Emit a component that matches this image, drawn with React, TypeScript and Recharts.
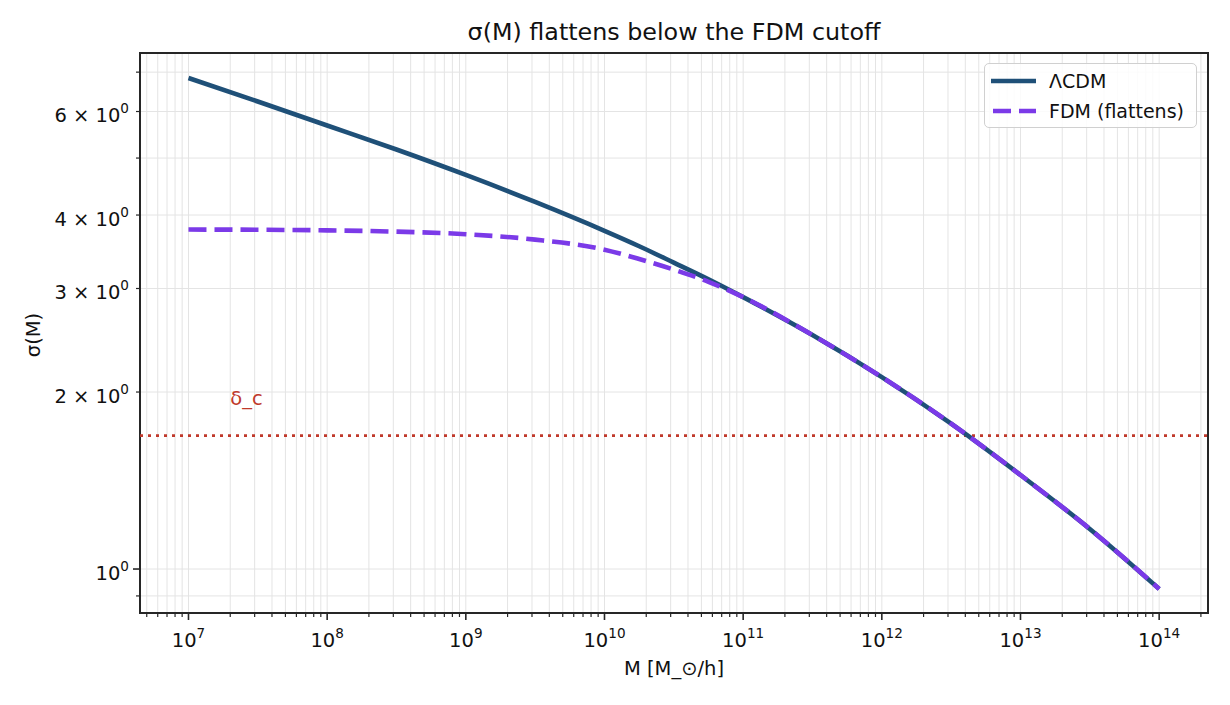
import {
  LineChart,
  Line,
  XAxis,
  YAxis,
  CartesianGrid,
  Legend,
  ReferenceLine,
  ReferenceArea,
  ReferenceDot,
} from 'recharts'

// halo mass M [M_sun/h]
const massValues = [
  1e7, 3.16e7, 1e8, 3.16e8, 1e9, 3.16e9, 1e10, 1.78e10, 3.16e10, 5.62e10,
  1e11, 3.16e11, 1e12, 3.16e12, 1e13, 3.16e13, 1e14,
]
// sigma(M)
const lcdmSigma = [
  6.84, 6.24, 5.68, 5.17, 4.68, 4.21, 3.76, 3.54, 3.32, 3.11,
  2.9, 2.5, 2.12, 1.767, 1.445, 1.17, 0.925,
]
const fdmSigma = [
  3.779, 3.776, 3.767, 3.748, 3.711, 3.633, 3.493, 3.367, 3.23, 3.08,
  2.9, 2.5, 2.12, 1.767, 1.445, 1.17, 0.925,
]

const deltaC = 1.686
const deltaLabelPos = { x: 2e7, y: 1.9 }

const xDomain = [4.47e6, 2.25e14]
const yDomain = [0.8418, 7.545]

const xMajorExps = [7, 8, 9, 10, 11, 12, 13, 14]
const xTicks = [
  5e6, 6e6, 7e6, 8e6, 9e6,
  1e7, 2e7, 3e7, 4e7, 5e7, 6e7, 7e7, 8e7, 9e7,
  1e8, 2e8, 3e8, 4e8, 5e8, 6e8, 7e8, 8e8, 9e8,
  1e9, 2e9, 3e9, 4e9, 5e9, 6e9, 7e9, 8e9, 9e9,
  1e10, 2e10, 3e10, 4e10, 5e10, 6e10, 7e10, 8e10, 9e10,
  1e11, 2e11, 3e11, 4e11, 5e11, 6e11, 7e11, 8e11, 9e11,
  1e12, 2e12, 3e12, 4e12, 5e12, 6e12, 7e12, 8e12, 9e12,
  1e13, 2e13, 3e13, 4e13, 5e13, 6e13, 7e13, 8e13, 9e13,
  1e14, 2e14,
]
const yTicks = [0.9, 1, 2, 3, 4, 5, 6, 7]
const yLabels: Record<number, string> = { 2: '2', 3: '3', 4: '4', 6: '6' }

const data = massValues.map((m, i) => ({ m, lcdm: lcdmSigma[i], fdm: fdmSigma[i] }))

const FONT = '"DejaVu Sans", sans-serif'
const LCDM_COLOR = '#1f5078'
const FDM_COLOR = '#7b3ae8'
const DELTA_COLOR = '#c0392b'

function XTick(props: any) {
  const { x, y, payload } = props
  const v = payload.value
  const exp = Math.round(Math.log10(v))
  const isMajor = Math.abs(v - Math.pow(10, exp)) / v < 1e-6 && xMajorExps.includes(exp)
  return (
    <g>
      <line x1={x} x2={x} y1={y} y2={y + (isMajor ? 7 : 4)} stroke="#262626" strokeWidth={isMajor ? 1.6 : 1.2} />
      {isMajor && (
        <text x={x} y={y + 34} textAnchor="middle" fontFamily={FONT} fontSize={19.5} fill="#111">
          <tspan>10</tspan>
          <tspan dy={-9} fontSize={13.6}>{exp}</tspan>
        </text>
      )}
    </g>
  )
}

function YTick(props: any) {
  const { x, y, payload } = props
  const v = payload.value
  const isMajor = v === 1
  const mant = yLabels[v]
  const hasLabel = isMajor || mant !== undefined
  return (
    <g>
      <line x1={x} x2={x - (isMajor ? 7 : 4)} y1={y} y2={y} stroke="#262626" strokeWidth={isMajor ? 1.6 : 1.2} />
      {hasLabel && (
        <text x={x - 11} y={y + 10.5} textAnchor="end" fontFamily={FONT} fontSize={19.5} fill="#111">
          <tspan>{isMajor ? '10' : `${mant} × 10`}</tspan>
          <tspan dy={-9} fontSize={13.6}>0</tspan>
        </text>
      )}
    </g>
  )
}

function LegendBox() {
  const rows = [
    { label: 'ΛCDM', color: LCDM_COLOR, dash: undefined },
    { label: 'FDM (flattens)', color: FDM_COLOR, dash: '18 8' },
  ]
  return (
    <div
      style={{
        width: 213,
        height: 65,
        boxSizing: 'border-box',
        border: '1.5px solid #d0d0d0',
        borderRadius: 5,
        background: 'rgba(255,255,255,0.85)',
        fontFamily: FONT,
        fontSize: 19,
        color: '#111',
        position: 'relative',
      }}
    >
      {rows.map((r, i) => (
        <div key={r.label} style={{ position: 'absolute', left: 0, top: 4 + i * 30, height: 26, display: 'flex', alignItems: 'center' }}>
          <svg width={56} height={26} style={{ display: 'block' }}>
            <line x1={6} x2={51} y1={13} y2={13} stroke={r.color} strokeWidth={4.5} strokeDasharray={r.dash} strokeDashoffset={r.dash ? -2 : 0} />
          </svg>
          <span style={{ marginLeft: 8, lineHeight: '26px', whiteSpace: 'nowrap' }}>{r.label}</span>
        </div>
      ))}
    </div>
  )
}

function DeltaLabel(props: any) {
  const { viewBox } = props
  const cx = viewBox.x + viewBox.width / 2
  const cy = viewBox.y + viewBox.height / 2
  return (
    <text x={cx} y={cy} fontFamily={FONT} fontSize={19.5} fill={DELTA_COLOR}>
      δ_c
    </text>
  )
}

export default function App() {
  return (
    <div style={{ position: 'absolute', left: 0, top: 0, width: 1230, height: 705, background: '#fff' }}>
      <LineChart width={1230} height={705} data={data} margin={{ top: 53, right: 22, bottom: 20, left: 20 }}>
        <text x={674} y={40} textAnchor="middle" fontFamily={FONT} fontSize={23.8} fill="#111">
          σ(M) flattens below the FDM cutoff
        </text>
        <text x={39.5} y={335} transform="rotate(-90 39.5 335)" textAnchor="middle" fontFamily={FONT} fontSize={19.5} fill="#111">
          σ(M)
        </text>
        <CartesianGrid stroke="#e4e4e4" strokeWidth={1} />
        <XAxis
          dataKey="m"
          type="number"
          scale="log"
          domain={xDomain}
          ticks={xTicks}
          allowDataOverflow
          interval={0}
          height={72}
          tickSize={0}
          tickMargin={0}
          tickLine={false}
          axisLine={false}
          tick={<XTick />}
          label={{ value: 'M [M_⊙/h]', position: 'insideBottom', offset: 10, fontFamily: FONT, fontSize: 19.5, fill: '#111' }}
        />
        <YAxis
          type="number"
          scale="log"
          domain={yDomain}
          ticks={yTicks}
          allowDataOverflow
          interval={0}
          width={120}
          tickSize={0}
          tickMargin={0}
          tickLine={false}
          axisLine={false}
          tick={<YTick />}
        />
        <ReferenceLine y={deltaC} stroke={DELTA_COLOR} strokeWidth={2.6} strokeDasharray="3 5" />
        <ReferenceDot x={deltaLabelPos.x} y={deltaLabelPos.y} r={1} fill="none" stroke="none" label={<DeltaLabel />} />
        <Line type="monotone" dataKey="lcdm" name="ΛCDM" stroke={LCDM_COLOR} strokeWidth={4.6} dot={false} isAnimationActive={false} />
        <Line type="monotone" dataKey="fdm" name="FDM (flattens)" stroke={FDM_COLOR} strokeWidth={4.6} strokeDasharray="18 8" dot={false} isAnimationActive={false} />
        <ReferenceArea x1={xDomain[0]} x2={xDomain[1]} y1={yDomain[0]} y2={yDomain[1]} fill="none" stroke="#262626" strokeWidth={2} ifOverflow="visible" />
        <Legend
          layout="vertical"
          align="center"
          verticalAlign="middle"
          wrapperStyle={{ top: 63, left: 984, width: 213 }}
          content={<LegendBox />}
        />
      </LineChart>
    </div>
  )
}
